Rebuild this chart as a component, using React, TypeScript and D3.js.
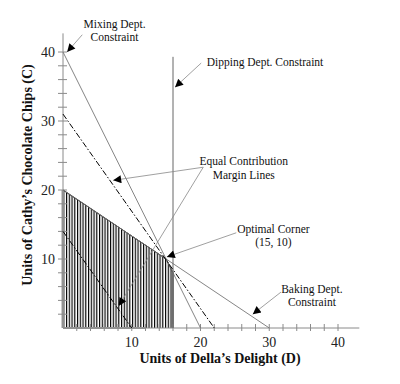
import React from "react";
import * as d3 from "d3";

// ---- data ----
const xTickLabels = [10, 20, 30, 40];
const yTickLabels = [10, 20, 30, 40];
const minorTicks = d3.range(2, 42, 2);
const mixingLine: [number, number][] = [[0, 40], [20, 0]];
const bakingLine: [number, number][] = [[0, 20], [30, 0]];
const dippingLine: [number, number][] = [[16, 0], [16, 39.3]];
const isoHigh: [number, number][] = [[0, 31], [22, 0]];
const isoLow: [number, number][] = [[0, 14], [10, 0]];
const feasible: [number, number][] = [[0, 0], [0, 20], [15, 10], [16, 8], [16, 0]];

// annotations: arrow tail/tip in data units
const arrows: { from: [number, number]; to: [number, number] }[] = [
  { from: [2.8, 42.5], to: [0.6, 40] },
  { from: [20.1, 38.4], to: [16.3, 34.9] },
  { from: [20.4, 23.3], to: [7.3, 21.4] },
  { from: [20.4, 23.3], to: [8.1, 3.2] },
  { from: [25.2, 13.8], to: [15.1, 10.3] },
  { from: [31.7, 5.2], to: [27.6, 2.0] },
];
const labels: { lines: string[]; at: [number, number]; anchor: string }[] = [
  { lines: ["Mixing Dept.", "Constraint"], at: [7.5, 43.5], anchor: "middle" },
  { lines: ["Dipping Dept. Constraint"], at: [20.9, 38.0], anchor: "start" },
  { lines: ["Equal Contribution", "Margin Lines"], at: [26.3, 23.6], anchor: "middle" },
  { lines: ["Optimal Corner", "(15, 10)"], at: [30.6, 13.8], anchor: "middle" },
  { lines: ["Baking Dept.", "Constraint"], at: [36.2, 5.1], anchor: "middle" },
];

const W = 400, H = 384;
const x = d3.scaleLinear().domain([0, 40]).range([63, 338]);
const y = d3.scaleLinear().domain([0, 40]).range([328, 52]);
const FONT = "'Liberation Serif', 'Times New Roman', serif";

export default function App() {
  const line = d3.line<[number, number]>().x((d) => x(d[0])).y((d) => y(d[1]));
  const area = d3.line<[number, number]>().x((d) => x(d[0])).y((d) => y(d[1])).curve(d3.curveLinearClosed);
  const axisColor = "#8a8a8a";
  return (
    <svg width={W} height={H} style={{ position: "absolute", left: 0, top: 0, background: "#fff" }} fontFamily={FONT}>
      <defs>
        <pattern id="hatch" patternUnits="userSpaceOnUse" width={2.75} height={10}>
          <rect x={0} y={0} width={1.15} height={10} fill="#000" />
        </pattern>
        <marker id="arr" viewBox="0 0 10 10" refX={10} refY={5} markerWidth={10} markerHeight={8} markerUnits="userSpaceOnUse" orient="auto">
          <path d="M0,0 L10,5 L0,10 Z" fill="#000" />
        </marker>
      </defs>
      <rect width={W} height={H} fill="#fff" />

      {/* feasible region */}
      <path d={area(feasible) || ""} fill="url(#hatch)" stroke="none" />
      <line x1={x(0)} x2={x(0)} y1={y(0)} y2={y(20)} stroke="#999" strokeWidth={3} />
      <line x1={x(0)} x2={x(12)} y1={y(0)} y2={y(0)} stroke="#999" strokeWidth={2} />
      <path d={line([feasible[1], feasible[2], feasible[3], feasible[4]]) || ""} fill="none" stroke="#000" strokeWidth={1} />

      {/* axes */}
      <line x1={x(0)} x2={x(43.1)} y1={y(0)} y2={y(0)} stroke={axisColor} strokeWidth={1} />
      <line x1={x(0)} x2={x(0)} y1={y(0)} y2={y(42.7)} stroke={axisColor} strokeWidth={1} />
      {minorTicks.map((t) => (
        <line key={"xt" + t} x1={x(t)} x2={x(t)} y1={y(0) - 4} y2={y(0) + 3} stroke={axisColor} strokeWidth={1} />
      ))}
      {minorTicks.map((t) => (
        <line key={"yt" + t} x1={x(0) - 5} x2={x(0) + 4} y1={y(t)} y2={y(t)} stroke={axisColor} strokeWidth={1} />
      ))}
      {xTickLabels.map((t) => (
        <text key={"xl" + t} x={x(t)} y={y(0) + 19} textAnchor="middle" fontSize={14} fill="#222">{t}</text>
      ))}
      {yTickLabels.map((t) => (
        <text key={"yl" + t} x={x(0) - 8} y={y(t) + 5} textAnchor="end" fontSize={14} fill="#222">{t}</text>
      ))}

      {/* constraints */}
      <path d={line(mixingLine) || ""} stroke="#777" strokeWidth={0.9} fill="none" />
      <path d={line(bakingLine) || ""} stroke="#777" strokeWidth={0.9} fill="none" />
      <path d={line(dippingLine) || ""} stroke="#666" strokeWidth={1} fill="none" />
      <path d={line(isoHigh) || ""} stroke="#000" strokeWidth={1} strokeDasharray="6,2,1.5,2" fill="none" />
      <path d={line(isoLow) || ""} stroke="#000" strokeWidth={1} strokeDasharray="6,2,1.5,2" fill="none" />

      {/* annotations */}
      {arrows.map((a, i) => (
        <line key={"a" + i} x1={x(a.from[0])} y1={y(a.from[1])} x2={x(a.to[0])} y2={y(a.to[1])} stroke="#888" strokeWidth={0.8} markerEnd="url(#arr)" />
      ))}
      {labels.map((l, i) => (
        <text key={"l" + i} x={x(l.at[0])} y={y(l.at[1])} textAnchor={l.anchor as any} fontSize={11.5} fill="#111">
          {l.lines.map((s, j) => (
            <tspan key={j} x={x(l.at[0])} dy={j === 0 ? 0 : 13.5}>{s}</tspan>
          ))}
        </text>
      ))}

      {/* axis titles */}
      <text x={220} y={363} textAnchor="middle" fontSize={14} fontWeight="bold" fill="#111">Units of Della’s Delight (D)</text>
      <text transform={`translate(32,175) rotate(-90)`} textAnchor="middle" fontSize={14} fontWeight="bold" fill="#111">Units of Cathy’s Chocolate Chips (C)</text>
    </svg>
  );
}
